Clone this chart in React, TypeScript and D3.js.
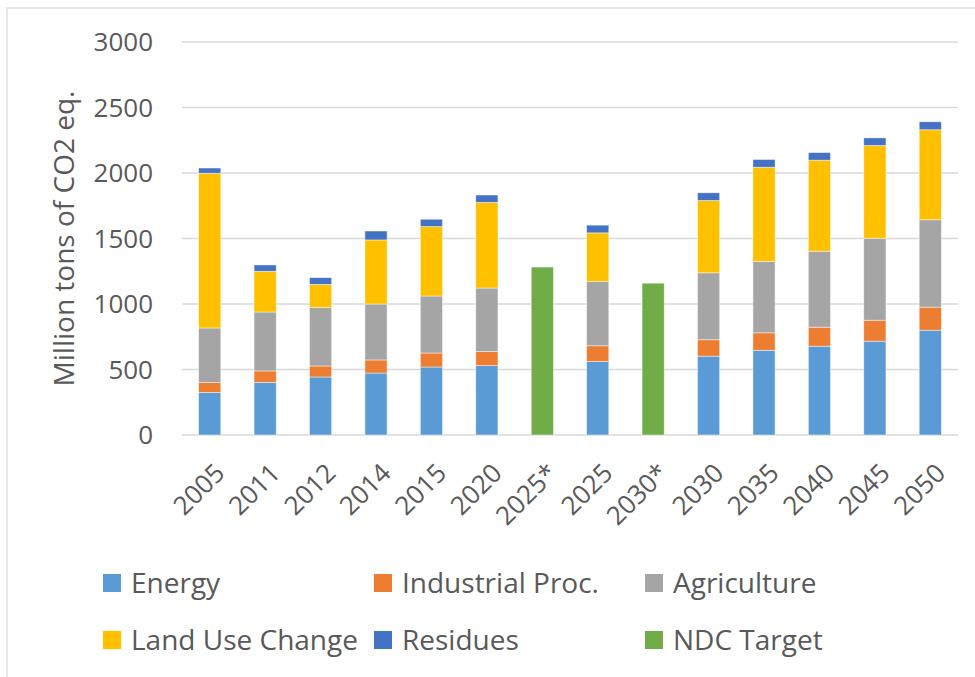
import React from "react"
import * as d3 from "d3"

const years = ["2005", "2011", "2012", "2014", "2015", "2020", "2025*", "2025", "2030*", "2030", "2035", "2040", "2045", "2050"]

const energy = [324, 402, 443, 473, 519, 530, 0, 561, 0, 602, 647, 678, 716, 800]
const industrial = [78, 87, 84, 100, 107, 107, 0, 120, 0, 125, 133, 145, 160, 176]
const agriculture = [415, 450, 446, 427, 435, 485, 0, 491, 0, 511, 544, 580, 626, 667]
const landUse = [1181, 311, 177, 489, 530, 654, 0, 371, 0, 552, 720, 695, 708, 687]
const residues = [40, 48, 51, 68, 56, 56, 0, 59, 0, 59, 59, 58, 58, 61]
const ndcTarget = [0, 0, 0, 0, 0, 0, 1282, 0, 1159, 0, 0, 0, 0, 0]

const seriesNames = ["Energy", "Industrial Proc.", "Agriculture", "Land Use Change", "Residues", "NDC Target"]
const seriesColors = ["#5B9BD5", "#ED7D31", "#A5A5A5", "#FFC000", "#4472C4", "#70AD47"]
const yTicks = [0, 500, 1000, 1500, 2000, 2500, 3000]

const FONT = "'Open Sans', sans-serif"
const TEXT = "#595959"

const App = () => {
    const width = 975
    const height = 677
    const plot = { left: 182, right: 958, top: 42, bottom: 435 }

    const rows = years.map((year, i) => ({
        year,
        [seriesNames[0]]: energy[i],
        [seriesNames[1]]: industrial[i],
        [seriesNames[2]]: agriculture[i],
        [seriesNames[3]]: landUse[i],
        [seriesNames[4]]: residues[i],
        [seriesNames[5]]: ndcTarget[i],
    }))

    const stacked = d3.stack().keys(seriesNames)(rows as any)

    const x = d3
        .scaleBand()
        .domain(years)
        .range([plot.left, plot.right])
        .paddingInner(0.6)
        .paddingOuter(0.3)

    const y = d3.scaleLinear().domain([0, 3000]).range([plot.bottom, plot.top])

    // legend: 3 columns, 2 rows
    const legendCols = [103, 374, 645]
    const legendRows = [583, 640]

    return (
        <svg
            width={width}
            height={height}
            style={{ position: "absolute", left: 0, top: 0, background: "#fff" }}
            fontFamily={FONT}
        >
            <rect x={7} y={8} width={1000} height={700} fill="#fff" stroke="#d9d9d9" strokeWidth={1.2} />

            {/* gridlines */}
            {yTicks.map((t) => (
                <line
                    key={"g" + t}
                    x1={plot.left}
                    x2={plot.right}
                    y1={y(t)}
                    y2={y(t)}
                    stroke="#d9d9d9"
                    strokeWidth={1.5}
                />
            ))}

            {/* y tick labels */}
            {yTicks.map((t) => (
                <text
                    key={"t" + t}
                    x={153}
                    y={y(t)}
                    dy="0.36em"
                    textAnchor="end"
                    fontSize={26}
                    fill={TEXT}
                >
                    {t}
                </text>
            ))}

            <text
                transform={`translate(74,${(plot.top + plot.bottom) / 2}) rotate(-90)`}
                textAnchor="middle"
                fontSize={28}
                fill={TEXT}
            >
                Million tons of CO2 eq.
            </text>

            {/* stacked bars */}
            {stacked.map((layer, si) => (
                <g key={seriesNames[si]} fill={seriesColors[si]}>
                    {layer.map((d, i) =>
                        d[1] - d[0] > 0 ? (
                            <rect
                                key={years[i]}
                                x={x(years[i])}
                                y={y(d[1])}
                                width={x.bandwidth()}
                                height={y(d[0]) - y(d[1])}
                                stroke="#ffffff"
                                strokeOpacity={0.6}
                                strokeWidth={0.75}
                            />
                        ) : null,
                    )}
                </g>
            ))}

            {/* x tick labels */}
            {years.map((yr) => (
                <text
                    key={"x" + yr}
                    transform={`translate(${(x(yr) as number) + x.bandwidth() / 2 + 3},461) rotate(-45)`}
                    dy="0.74em"
                    textAnchor="end"
                    fontSize={26}
                    fill={TEXT}
                >
                    {yr}
                </text>
            ))}

            {/* legend */}
            {seriesNames.map((name, i) => {
                const lx = legendCols[i % 3]
                const ly = legendRows[Math.floor(i / 3)]
                return (
                    <g key={"l" + name}>
                        <rect x={lx} y={ly - 9} width={18} height={18} fill={seriesColors[i]} />
                        <text x={lx + 28} y={ly} dy="0.36em" fontSize={28} fill={TEXT}>
                            {name}
                        </text>
                    </g>
                )
            })}
        </svg>
    )
}

export default App
